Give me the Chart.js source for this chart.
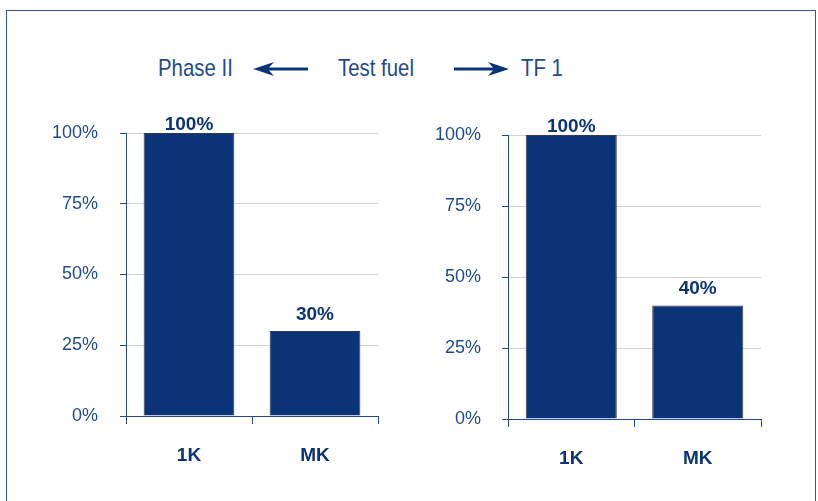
<!DOCTYPE html>
<html>
<head>
<meta charset="utf-8">
<script src="https://cdn.jsdelivr.net/npm/chart.js@4.4.1/dist/chart.umd.min.js"></script>
<style>
  body { margin: 0; background: #fff; }
  #wrap { position: relative; width: 818px; height: 501px; overflow: hidden; }
  #frame { position: absolute; left: 6px; top: 10px; width: 810px; height: 520px; border: 1.5px solid #2f5597; box-sizing: border-box; }
  .hd { position: absolute; top: 52px; font: 24px 'Liberation Sans', sans-serif; color: #1f4a8e; line-height: 32px;
        transform: scaleX(0.85); transform-origin: left center; white-space: nowrap; }
  .arrow { position: absolute; top: 62px; }
  canvas { position: absolute; top: 0; }
</style>
</head>
<body>
<div id="wrap">
  <div id="frame"></div>
  <span class="hd" style="left:158px">Phase II</span>
  <svg class="arrow" style="left:253px" width="56" height="14" viewBox="0 0 56 14">
    <path d="M0 7 L21 0 L16 5.5 L55 5.5 L55 8.5 L16 8.5 L21 14 Z" fill="#0b3478"/>
  </svg>
  <span class="hd" style="left:338px">Test fuel</span>
  <svg class="arrow" style="left:453px" width="56" height="14" viewBox="0 0 56 14">
    <path d="M56 7 L35 0 L40 5.5 L1 5.5 L1 8.5 L40 8.5 L35 14 Z" fill="#0b3478"/>
  </svg>
  <span class="hd" style="left:521px">TF 1</span>
  <canvas id="leftChart" width="400" height="501" style="left:0"></canvas>
  <canvas id="rightChart" width="400" height="501" style="left:400px"></canvas>
</div>
<script>
const categories = ['1K', 'MK'];
const phaseValues = [100, 30];
const tfValues = [100, 40];
const yTicks = [0, 25, 50, 75, 100];

const blue = '#1f4a8e';
const barBlue = '#0b3478';
const sans = "'Liberation Sans', Arial, sans-serif";

// value labels above bars (tall bars keep theirs just above the plot top)
const valueLabels = {
  id: 'valueLabels',
  afterDatasetsDraw(chart) {
    const ctx = chart.ctx;
    const ds = chart.data.datasets[0];
    ctx.save();
    ctx.font = 'bold 19px ' + sans;
    ctx.fillStyle = barBlue;
    ctx.textAlign = 'center';
    ctx.textBaseline = 'alphabetic';
    chart.getDatasetMeta(0).data.forEach((bar, i) => {
      const y = Math.max(bar.y - 11, chart.chartArea.top - 3);
      ctx.fillText(ds.data[i] + '%', bar.x, y);
    });
    ctx.restore();
  }
};

function makeChart(id, values, yWidth, rightPad, topPad, xHeight, labelPad) {
  return new Chart(document.getElementById(id), {
    type: 'bar',
    data: {
      labels: categories,
      datasets: [{
        data: values,
        backgroundColor: barBlue,
        borderColor: '#333a45',
        borderWidth: 1,
        categoryPercentage: 1,
        barPercentage: 0.72
      }]
    },
    options: {
      responsive: false,
      animation: false,
      layout: { padding: { left: 0, right: rightPad, top: topPad, bottom: 0 } },
      plugins: { legend: { display: false }, tooltip: { enabled: false } },
      scales: {
        y: {
          min: 0,
          max: 100,
          afterBuildTicks: (s) => { s.ticks = yTicks.map(v => ({ value: v })); },
          afterFit: (s) => { s.width = yWidth; },
          ticks: {
            color: blue,
            padding: labelPad,
            font: { family: sans, size: 18 },
            callback: (v) => v + '%'
          },
          grid: { color: '#d2d2d2', tickColor: blue, tickLength: 6 },
          border: { color: blue, width: 1 }
        },
        x: {
          afterFit: (s) => { s.height = xHeight; },
          ticks: {
            color: barBlue,
            padding: 20,
            font: { family: sans, size: 19, weight: 'bold' }
          },
          grid: { offset: true, drawOnChartArea: false, tickColor: blue, tickLength: 8 },
          border: { color: blue, width: 1 }
        }
      }
    },
    plugins: [valueLabels]
  });
}

makeChart('leftChart', phaseValues, 126, 22, 133, 85, 22);
makeChart('rightChart', tfValues, 108, 39, 135, 82, 21);
</script>
</body>
</html>
